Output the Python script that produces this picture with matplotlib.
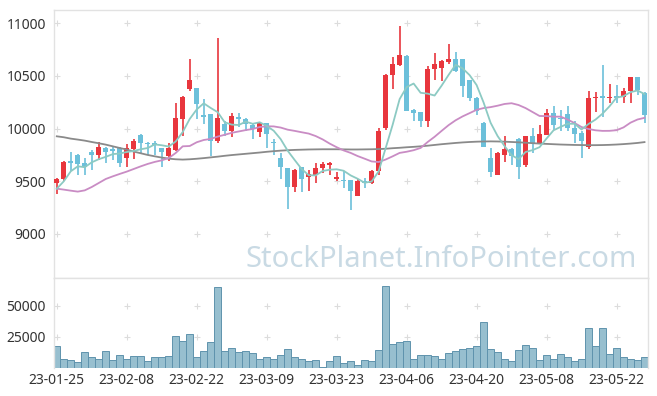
import numpy as np
import pandas as pd
import matplotlib
matplotlib.use("Agg")
import matplotlib.pyplot as plt

# 거래일 (KRX 휴장일 제외)
holidays = ["2023-03-01", "2023-05-01", "2023-05-05"]
days = pd.bdate_range("2023-01-25", "2023-05-26")
days = days[~days.isin(pd.to_datetime(holidays))]
date_labels = list(days.strftime("%y-%m-%d"))

opens = [9480, 9520, 9690, 9750, 9670, 9780, 9750, 9820, 9800, 9820,
         9720, 9810, 9940, 9860, 9860, 9820, 9740, 9800, 10090, 10380,
         10390, 10130, 10140, 9880, 10040, 9980, 10110, 10090, 10030, 9970,
         10050, 9870, 9720, 9630, 9450, 9640, 9540, 9560, 9630, 9650,
         9520, 9510, 9510, 9360, 9500, 9480, 9600, 10010, 10510, 10600,
         10690, 10180, 10160, 10070, 10570, 10580, 10630, 10660, 10660, 10460,
         10290, 10050, 9720, 9560, 9750, 9810, 9900, 9650, 9930, 9860,
         9940, 10150, 10100, 10140, 10010, 9960, 9830, 10290, 10310, 10290,
         10310, 10300, 10360, 10490, 10340]
highs = [9530, 9690, 9780, 9760, 9720, 9800, 9870, 9830, 9830, 9830,
         9850, 9900, 9950, 9870, 9880, 9820, 9860, 10240, 10310, 10660,
         10390, 10280, 10140, 10860, 10070, 10150, 10150, 10100, 10040, 10050,
         10050, 9900, 9770, 9630, 9620, 9640, 9610, 9670, 9680, 9680,
         9590, 9600, 9510, 9520, 9530, 9610, 10010, 10520, 10680, 10970,
         10700, 10190, 10160, 10590, 10720, 10650, 10800, 10730, 10660, 10460,
         10300, 10060, 9820, 9780, 9930, 9820, 9910, 9930, 10010, 10030,
         10190, 10210, 10180, 10210, 10070, 9980, 10360, 10350, 10600, 10420,
         10410, 10390, 10490, 10490, 10350]
lows = [9380, 9500, 9600, 9560, 9560, 9610, 9700, 9670, 9700, 9640,
        9640, 9710, 9770, 9750, 9750, 9640, 9690, 9790, 9930, 10360,
        10090, 10040, 9740, 9860, 9930, 9920, 10020, 9980, 9900, 9920,
        9820, 9750, 9520, 9240, 9400, 9400, 9410, 9480, 9580, 9560,
        9500, 9440, 9230, 9360, 9440, 9470, 9560, 9990, 10380, 10590,
        10170, 10070, 10020, 10020, 10460, 10450, 10610, 10540, 10300, 10260,
        10130, 9830, 9540, 9560, 9680, 9650, 9520, 9640, 9770, 9860,
        9940, 9990, 9980, 9980, 9860, 9720, 9810, 10160, 10110, 10240,
        10240, 10240, 10240, 10320, 10050]
closes = [9520, 9680, 9670, 9660, 9640, 9750, 9830, 9780, 9790, 9670,
          9820, 9880, 9860, 9850, 9840, 9780, 9820, 10100, 10300, 10460,
          10230, 10110, 9880, 10100, 9980, 10120, 10090, 10040, 10000, 10050,
          9950, 9860, 9640, 9450, 9610, 9520, 9570, 9630, 9660, 9670,
          9540, 9500, 9410, 9500, 9480, 9600, 9980, 10510, 10610, 10700,
          10170, 10150, 10070, 10570, 10610, 10640, 10660, 10550, 10400, 10290,
          10170, 9830, 9590, 9770, 9810, 9740, 9640, 9930, 9860, 9950,
          10150, 10030, 10090, 10010, 9950, 9880, 10290, 10300, 10290, 10300,
          10290, 10360, 10490, 10370, 10130]
volumes = [17100, 6500, 5700, 4100, 12200, 8200, 6500, 13000, 5700, 9800,
           7300, 9000, 9000, 4900, 8200, 8200, 9000, 25300, 21200, 26900,
           8200, 13000, 20400, 65200, 13000, 15500, 12200, 13000, 11400, 7300,
           8200, 7300, 9800, 14700, 8200, 6500, 4900, 5700, 800, 4900,
           9000, 3300, 4900, 2400, 5700, 4900, 13900, 66000, 18700, 20400,
           21200, 7300, 9800, 9800, 9000, 7300, 11400, 13000, 14700, 15500,
           17100, 36700, 14700, 12200, 6500, 4900, 13900, 17900, 15500, 5700,
           9800, 6500, 10600, 8200, 4900, 7300, 31800, 17100, 31800, 10600,
           15500, 8200, 7300, 5700, 8200]

# 이동평균: 구간 앞부분은 화면에서 읽은 값
ma5_head = [9430, 9500, 9595, 9642]
ma20_head = [9430, 9421, 9411, 9402, 9414, 9446, 9484, 9522, 9547, 9570,
             9592, 9617, 9642, 9665, 9684, 9699, 9721, 9769, 9832]
ma60 = [9927, 9918, 9905, 9896, 9886, 9873, 9861, 9848, 9832, 9816,
        9801, 9782, 9766, 9750, 9737, 9725, 9715, 9709, 9706, 9709,
        9714, 9720, 9727, 9734, 9742, 9749, 9755, 9761, 9767, 9773,
        9780, 9786, 9791, 9795, 9798, 9800, 9802, 9803, 9804, 9804,
        9804, 9803, 9802, 9802, 9803, 9804, 9806, 9809, 9814, 9818,
        9823, 9827, 9832, 9838, 9845, 9852, 9858, 9864, 9869, 9873,
        9876, 9878, 9879, 9878, 9876, 9873, 9870, 9866, 9862, 9858,
        9855, 9852, 9849, 9847, 9845, 9844, 9843, 9843, 9844, 9846,
        9849, 9853, 9858, 9864, 9872]

price_ticks = [9000, 9500, 10000, 10500, 11000]
vol_ticks = [25000, 50000]

c = pd.Series(closes, dtype=float)
ma5 = c.rolling(5).mean().to_numpy()
ma5[:len(ma5_head)] = ma5_head
ma20 = c.rolling(20).mean().to_numpy()
ma20[:len(ma20_head)] = ma20_head

x = np.arange(len(closes))
o = np.array(opens)
cl = np.array(closes)
up = cl >= o
RED = "#e8363d"
BLUE = "#6cc0da"
colors = np.where(up, RED, BLUE)

plt.rcParams["font.family"] = ["Noto Sans", "DejaVu Sans"]
W, H = 657, 396
fig = plt.figure(figsize=(W / 100, H / 100), dpi=100)
left, right = 54, 648
ax = fig.add_axes([left / W, (H - 278) / H, (right - left) / W, (278 - 10) / H])
axv = fig.add_axes([left / W, (H - 367.5) / H, (right - left) / W, (367.5 - 278) / H])

# 캔들
ax.vlines(x, lows, highs, colors=colors, linewidth=1.2, zorder=3)
body = np.maximum(np.abs(cl - o), 12)
ax.bar(x, body, bottom=np.minimum(o, cl), width=0.72, color=colors, linewidth=0, zorder=3)

ax.plot(x, ma60, color="#8a8a8a", lw=1.3, zorder=4)
ax.plot(x, ma20, color="#c98cc4", lw=1.3, zorder=4)
ax.plot(x, ma5, color="#8ccac3", lw=1.3, zorder=4)

ax.text(0.982, 0.04, "StockPlanet.InfoPointer.com", transform=ax.transAxes,
        ha="right", va="baseline", fontsize=21, color="#c9dae4", zorder=1)

# 거래량
axv.bar(x, volumes, width=1.0, color="#97bfcf", edgecolor="#5f93ad", linewidth=0.7)

xt = list(range(0, len(x), 10))
for a, yt in ((ax, price_ticks), (axv, vol_ticks)):
    gx, gy = np.meshgrid(xt, yt)
    a.scatter(gx.ravel(), gy.ravel(), marker="+", s=18, color="#dcdcdc", linewidths=0.8, zorder=0)
    a.set_yticks(yt)
    a.set_yticklabels([str(v) for v in yt])
    a.tick_params(axis="y", length=0, pad=6, labelsize=10, labelcolor="#333333")
    a.set_xlim(-0.4, 84.5)
    for s in ("top", "right", "left", "bottom"):
        a.spines[s].set_color("#e2e2e2")
        a.spines[s].set_linewidth(1.0)

ax.set_ylim(8582, 11126)
ax.set_xticks([])
axv.set_ylim(0, 72600)
axv.spines["bottom"].set_visible(False)
axv.set_xticks(xt)
axv.set_xticklabels([date_labels[i] for i in xt])
axv.tick_params(axis="x", length=0, pad=4, labelsize=10, labelcolor="#333333")

fig.savefig("out.png", dpi=100)
